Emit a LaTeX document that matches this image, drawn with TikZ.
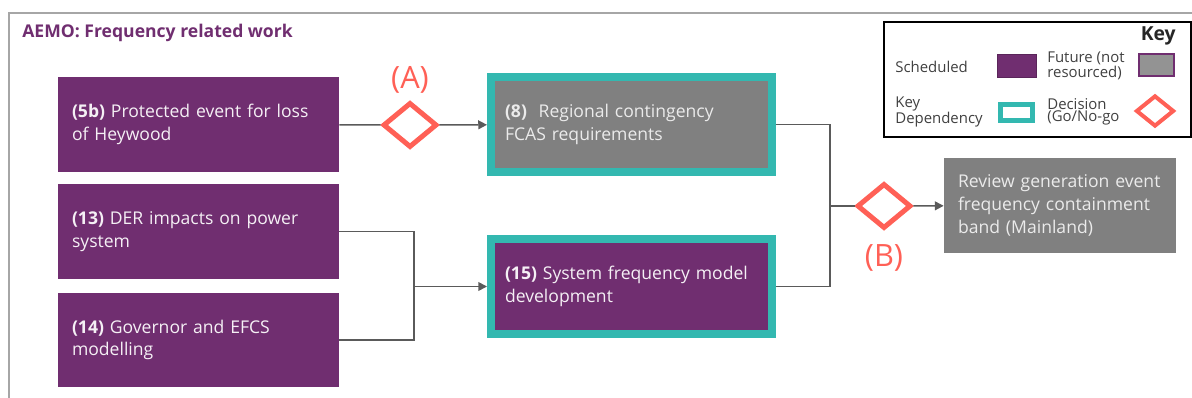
\documentclass[tikz,border=0pt]{standalone}
\usepackage{fontspec}
\setmainfont{Open Sans}
\usepackage{xcolor}
\usetikzlibrary{positioning,arrows.meta,shapes.geometric}
\definecolor{aemopurple}{RGB}{112,46,112}
\definecolor{futuregray}{RGB}{128,128,128}
\definecolor{depteal}{RGB}{51,184,176}
\definecolor{decisionred}{RGB}{255,96,86}
\definecolor{linegray}{RGB}{90,90,90}
\definecolor{keyink}{RGB}{64,64,64}
\hyphenpenalty=10000

\begin{document}
\begin{tikzpicture}[x=0.02cm, y=-0.02cm, >={Triangle[length=5pt,width=5pt]}]
\tikzstyle{box}=[rectangle, align=left, inner xsep=0.28cm, minimum width=5.62cm, minimum height=1.9cm, text width=5.06cm, font=\fontsize{10}{13}\selectfont, text=white!93!aemopurple]
\tikzstyle{sched}=[box, fill=aemopurple]
\tikzstyle{future}=[box, fill=futuregray, text=white!92!black]
\tikzstyle{keydep}=[draw=depteal, line width=0.16cm]
\tikzstyle{decision}=[diamond, draw=decisionred, line width=0.1cm, minimum width=1.08cm, minimum height=0.9cm, inner sep=0pt]
\tikzstyle{link}=[draw=linegray, line width=0.9pt]
\tikzstyle{keytext}=[anchor=west, align=left, inner sep=0pt, text=keyink, font=\fontsize{8.5}{7}\selectfont]
\tikzstyle{tag}=[text=decisionred, font=\fontsize{17.5}{20}\selectfont]

\useasboundingbox (0,0) rectangle (1192,398);
\draw[gray!70, line width=0.03cm] (9,398) -- (9,13) -- (1192,13);
\node[anchor=west, inner sep=0pt, text=aemopurple, font=\bfseries\fontsize{10}{12}\selectfont] (title) at (22,33) {AEMO: Frequency related work};

% work items
\node[sched] (w5b) at (198.5,124.5) {\textbf{(5b)} Protected event for loss of Heywood};
\node[sched] (w13) at (198.5,231.5) {\textbf{(13)} DER impacts on power system};
\node[sched] (w14) at (198.5,340) {\textbf{(14)} Governor and EFCS modelling};
\node[future, keydep] (w8) at (631.5,124.5) {\textbf{(8)}~~Regional contingency FCAS requirements};
\node[sched, keydep] (w15) at (631.5,286.5) {\textbf{(15)} System frequency model development};
\node[future, minimum width=4.64cm, text width=4.08cm] (review) at (1060,205.5) {Review generation event frequency containment band (Mainland)};

% decisions
\node[decision] (dA) at (410,125) {};
\node[tag] (tagA) at (410,80) {(A)};
\node[decision] (dB) at (884,206) {};
\node[tag] (tagB) at (884,258) {(B)};

\coordinate (j1) at (414,286.5);
\coordinate (j2) at (830,206);

\draw[link] (w5b) -- (dA);
\draw[link, ->] (dA) -- (w8);
\draw[link] (w13.east) -| (j1);
\draw[link] (w14.east) -| (j1);
\draw[link, ->] (j1) -- (w15);
\draw[link] (w8.east) -| (j2);
\draw[link] (w15.east) -| (j2);
\draw[link] (j2) -- (dB);
\draw[link, ->] (dB) -- (review);

% key
\draw[black, line width=0.03cm] (884,22) rectangle (1191,137);
\node[anchor=east, inner sep=0pt, text=black!85, font=\bfseries\fontsize{11}{12}\selectfont] (keyhead) at (1176,36) {Key};
\node[keytext] (kschedtxt) at (895,67) {Scheduled};
\node[fill=aemopurple, draw=aemopurple!80!black, minimum width=0.78cm, minimum height=0.46cm] (ksched) at (1016.5,65.5) {};
\node[keytext] (kfuturetxt) at (1047,66) {Future (not\\resourced)};
\node[fill=futuregray!85!white, draw=aemopurple, line width=0.04cm, minimum width=0.7cm, minimum height=0.44cm] (kfuture) at (1156.5,65) {};
\node[keytext] (kdeptxt) at (895,112) {Key\\Dependency};
\node[draw=depteal, line width=0.1cm, minimum width=0.64cm, minimum height=0.32cm, inner sep=0pt] (kdep) at (1016.5,112.5) {};
\node[keytext] (kdectxt) at (1047,112) {Decision\\(Go/No-go};
\node[diamond, draw=decisionred, line width=0.08cm, minimum width=0.76cm, minimum height=0.62cm, inner sep=0pt] (kdec) at (1155,111) {};
\end{tikzpicture}
\end{document}
